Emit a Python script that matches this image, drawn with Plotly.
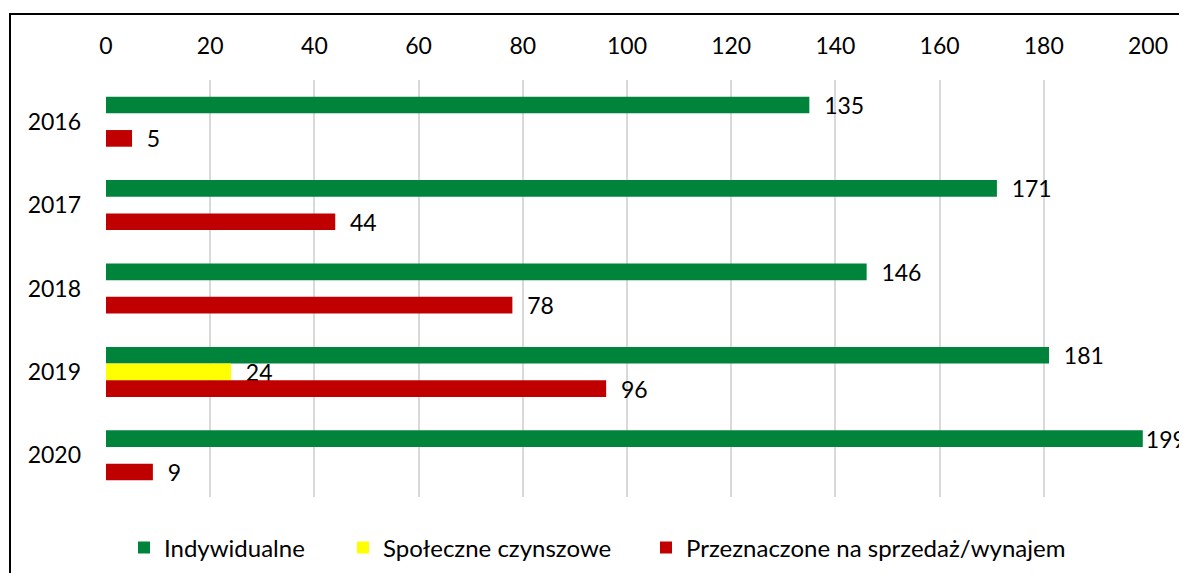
import plotly.graph_objects as go

years = ["2016", "2017", "2018", "2019", "2020"]
indywidualne = [135, 171, 146, 181, 199]
spoleczne = [None, None, None, 24, None]
sprzedaz = [5, 44, 78, 96, 9]
x_ticks = [0, 20, 40, 60, 80, 100, 120, 140, 160, 180, 200]
X_MAX = 200

series = [
    ("Indywidualne", indywidualne, "#00843C", "legend"),
    ("Społeczne czynszowe", spoleczne, "#FFFF00", "legend2"),
    ("Przeznaczone na sprzedaż/wynajem", sprzedaz, "#C00000", "legend3"),
]


def label(v):
    if v is None:
        return None
    # labels close to the axis end are pulled in (as the original chart does)
    pad = "" if v > X_MAX - 5 else "\u00a0\u00a0"
    return pad + str(v)


FONT = "Lato"
fig = go.Figure()
for name, vals, col, lg in series:
    fig.add_trace(go.Bar(
        y=years, x=vals, name=name, orientation="h", legend=lg,
        marker=dict(color=col, line=dict(width=0)),
        text=[label(v) for v in vals],
        textposition="outside", constraintext="none", cliponaxis=False,
        textfont=dict(family=FONT, size=23, color="#000000"),
        showlegend=True,
    ))

# page offset of 8px (body margin)
W, H = 1179, 565
L, T = 98, 72
R = W - 1140
B = H - 489
pw, ph = W - L - R, H - T - B


def px_x(p):
    return (p - L) / pw


def px_y(p):
    return (T + ph - p) / ph


leg_y = px_y(540)
legend_common = dict(orientation="h", xanchor="left", yanchor="middle", y=leg_y,
                     font=dict(size=24), itemwidth=30, bgcolor="rgba(0,0,0,0)",
                     visible=True)

fig.update_layout(
    width=W, height=H,
    showlegend=True,
    margin=dict(l=L, r=R, t=T, b=B, autoexpand=False),
    paper_bgcolor="white", plot_bgcolor="white",
    barmode="group", bargap=0.4, bargroupgap=0,
    font=dict(family=FONT, size=23, color="#000000"),
    xaxis=dict(range=[0, X_MAX], tickvals=x_ticks, side="top",
               showgrid=True, gridcolor="#D9D9D9", gridwidth=2,
               zeroline=False, showline=False, ticks="",
               ticklabelstandoff=20, tickfont=dict(size=23)),
    yaxis=dict(autorange="reversed", showgrid=False, showline=False, ticks="",
               ticklabelstandoff=24, tickfont=dict(size=23)),
    legend=dict(legend_common, x=px_x(156 - 40)),
    legend2=dict(legend_common, x=px_x(375 - 40)),
    legend3=dict(legend_common, x=px_x(678 - 40)),
    shapes=[dict(type="rect", xref="paper", yref="paper",
                 x0=px_x(2), x1=px_x(W + 20),
                 y0=px_y(H + 20), y1=px_y(6),
                 line=dict(color="black", width=2), fillcolor="rgba(0,0,0,0)",
                 layer="below")],
)

fig.write_html("out.html")
